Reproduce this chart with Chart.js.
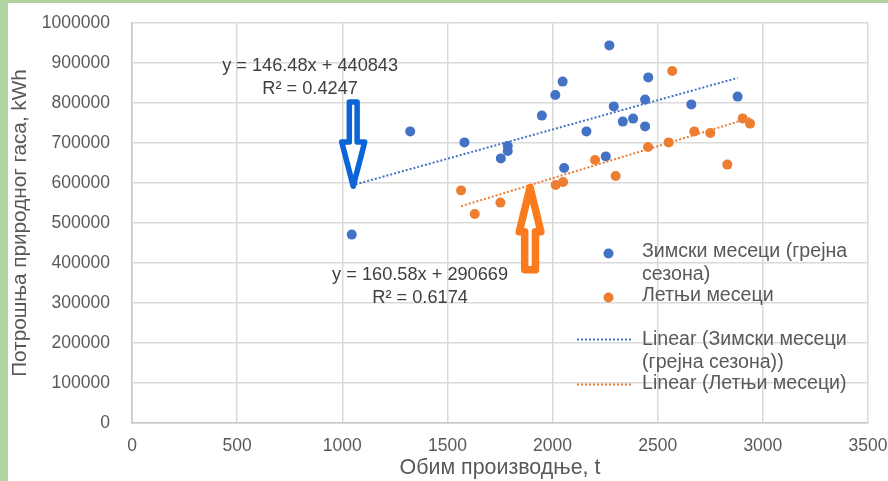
<!DOCTYPE html>
<html>
<head>
<meta charset="utf-8">
<script src="https://cdn.jsdelivr.net/npm/chart.js@4.4.0/dist/chart.umd.min.js"></script>
<style>
  html, body { margin: 0; padding: 0; }
  #wrap { position: relative; width: 888px; height: 481px; background: #b0d49f; overflow: hidden; }
  #card { position: absolute; left: 8px; top: 3px; width: 880px; height: 478px; background: #fff; }
</style>
</head>
<body>
<div id="wrap"><div id="card"><canvas id="chart"></canvas></div></div>
<script>
// winter months (heating season)
const winterX = [1323, 1045, 2270, 2455, 2048, 2013, 2880, 2440, 2291, 2660, 1949, 2334, 2383, 2440, 2161, 1581, 1787, 1787, 1754, 2253, 2055];
const winterY = [729000, 471000, 944000, 864000, 853500, 820000, 816000, 808500, 791500, 796500, 768500, 753500, 761000, 741500, 729000, 701500, 692500, 680000, 661500, 666500, 637500];
// summer months
const summerX = [2569, 2904, 2939, 2674, 2750, 2552, 2454, 2202, 2831, 2300, 2050, 2015, 1565, 1752, 1630];
const summerY = [880000, 761500, 748500, 729000, 725000, 701500, 690000, 657500, 646000, 617500, 602500, 595000, 581500, 551000, 522500];
// trend line ends
const winterTrendX = [1045, 2880];
const winterTrendY = [594000, 862700];
const summerTrendX = [1565, 2939];
const summerTrendY = [542000, 762600];

const blue = '#4472c4';
const orange = '#ed7d31';
const FONT = 'Liberation Sans, Arial, sans-serif';

function pts(xs, ys) { return xs.map((x, i) => ({x: x, y: ys[i]})); }

// arrow annotations, in data units
const arrows = [
  {x: 1052, tail: 802500, base: 702500, tip: 592000, color: '#0b64d8', lw: 5.5, hb: 3.9, hh: 11.5},
  {x: 1893, tail: 383000, base: 478000, tip: 589000, color: '#fb7a1c', lw: 7.5, hb: 5.4, hh: 10.8}
];

const extras = {
  id: 'extras',
  afterDatasetsDraw(chart) {
    const ctx = chart.ctx;
    const xs = chart.scales.x, ys = chart.scales.y;
    ctx.save();
    // equations
    ctx.fillStyle = '#404040';
    ctx.font = '18.2px ' + FONT;
    ctx.textAlign = 'center';
    ctx.textBaseline = 'middle';
    ctx.fillText('y = 146.48x + 440843', xs.getPixelForValue(847), ys.getPixelForValue(892000));
    ctx.fillText('R² = 0.4247', xs.getPixelForValue(847), ys.getPixelForValue(834000));
    ctx.fillText('y = 160.58x + 290669', xs.getPixelForValue(1370), ys.getPixelForValue(369000));
    ctx.fillText('R² = 0.6174', xs.getPixelForValue(1370), ys.getPixelForValue(312000));

    // arrows
    arrows.forEach(a => {
      const cx = xs.getPixelForValue(a.x);
      const yt = ys.getPixelForValue(a.tail);
      const yb = ys.getPixelForValue(a.base);
      const yp = ys.getPixelForValue(a.tip);
      ctx.beginPath();
      ctx.moveTo(cx - a.hb, yt);
      ctx.lineTo(cx + a.hb, yt);
      ctx.lineTo(cx + a.hb, yb);
      ctx.lineTo(cx + a.hh, yb);
      ctx.lineTo(cx, yp);
      ctx.lineTo(cx - a.hh, yb);
      ctx.lineTo(cx - a.hb, yb);
      ctx.closePath();
      ctx.fillStyle = '#fff';
      ctx.fill();
      ctx.lineWidth = a.lw;
      ctx.lineJoin = 'round';
      ctx.strokeStyle = a.color;
      ctx.stroke();
    });

    // legend
    ctx.textAlign = 'left';
    ctx.fillStyle = '#595959';
    ctx.font = '19.6px ' + FONT;
    const tx = 634;
    ctx.fillText('Зимски месеци (грејна', tx, 249);
    ctx.fillText('сезона)', tx, 272);
    ctx.fillText('Летњи месеци', tx, 293);
    ctx.fillText('Linear (Зимски месеци', tx, 336.5);
    ctx.fillText('(грејна сезона))', tx, 360);
    ctx.fillText('Linear (Летњи месеци)', tx, 380.5);
    ctx.beginPath(); ctx.arc(600.5, 250.5, 5, 0, Math.PI * 2); ctx.fillStyle = blue; ctx.fill();
    ctx.beginPath(); ctx.arc(600.5, 294.5, 5, 0, Math.PI * 2); ctx.fillStyle = orange; ctx.fill();
    ctx.setLineDash([2, 2]);
    ctx.lineWidth = 2;
    ctx.strokeStyle = blue;
    ctx.beginPath(); ctx.moveTo(569, 336.5); ctx.lineTo(623, 336.5); ctx.stroke();
    ctx.strokeStyle = orange;
    ctx.beginPath(); ctx.moveTo(569, 381.5); ctx.lineTo(623, 381.5); ctx.stroke();
    ctx.restore();
  }
};

new Chart(document.getElementById('chart'), {
  type: 'scatter',
  data: {
    datasets: [
      {
        type: 'line', label: 'Linear (Зимски месеци (грејна сезона))',
        data: pts(winterTrendX, winterTrendY),
        borderColor: blue, borderWidth: 2, borderDash: [2, 2],
        pointRadius: 0, fill: false, order: 0
      },
      {
        type: 'line', label: 'Linear (Летњи месеци)',
        data: pts(summerTrendX, summerTrendY),
        borderColor: orange, borderWidth: 2, borderDash: [2, 2],
        pointRadius: 0, fill: false, order: 0
      },
      {
        label: 'Зимски месеци (грејна сезона)',
        data: pts(winterX, winterY),
        backgroundColor: blue, borderWidth: 0, pointRadius: 5, order: 1
      },
      {
        label: 'Летњи месеци',
        data: pts(summerX, summerY),
        backgroundColor: orange, borderWidth: 0, pointRadius: 5, order: 1
      }
    ]
  },
  options: {
    responsive: true,
    maintainAspectRatio: false,
    animation: false,
    layout: { padding: { top: 20, right: 20, bottom: 0, left: 0 } },
    plugins: {
      legend: { display: false },
      tooltip: { enabled: false }
    },
    scales: {
      x: {
        type: 'linear', min: 0, max: 3500,
        ticks: { stepSize: 500, padding: 0, color: '#595959', font: { family: FONT, size: 17.5 },
                 callback: v => String(v), maxRotation: 0 },
        grid: { color: '#d9d9d9', lineWidth: 1.5, drawTicks: true, tickLength: 13, tickColor: 'rgba(0,0,0,0)' },
        border: { color: '#c8c8c8', width: 1.5 },
        title: { display: true, text: 'Обим производње, t', color: '#595959',
                 font: { family: FONT, size: 21.4 }, padding: { top: 0, bottom: 0 } },
        afterFit: s => { s.height = 58; }
      },
      y: {
        type: 'linear', min: 0, max: 1000000,
        ticks: { stepSize: 100000, padding: 0, color: '#595959', font: { family: FONT, size: 17.5 },
                 callback: v => String(v) },
        grid: { color: '#d9d9d9', lineWidth: 1.5, drawTicks: true, tickLength: 22, tickColor: 'rgba(0,0,0,0)' },
        border: { color: '#c8c8c8', width: 1.5 },
        title: { display: true, text: 'Потрошња природног гаса, kWh', color: '#595959',
                 font: { family: FONT, size: 20.7 }, padding: { top: 0, bottom: 0 } },
        afterFit: s => { s.width = 124; }
      }
    }
  },
  plugins: [extras]
});
</script>
</body>
</html>
